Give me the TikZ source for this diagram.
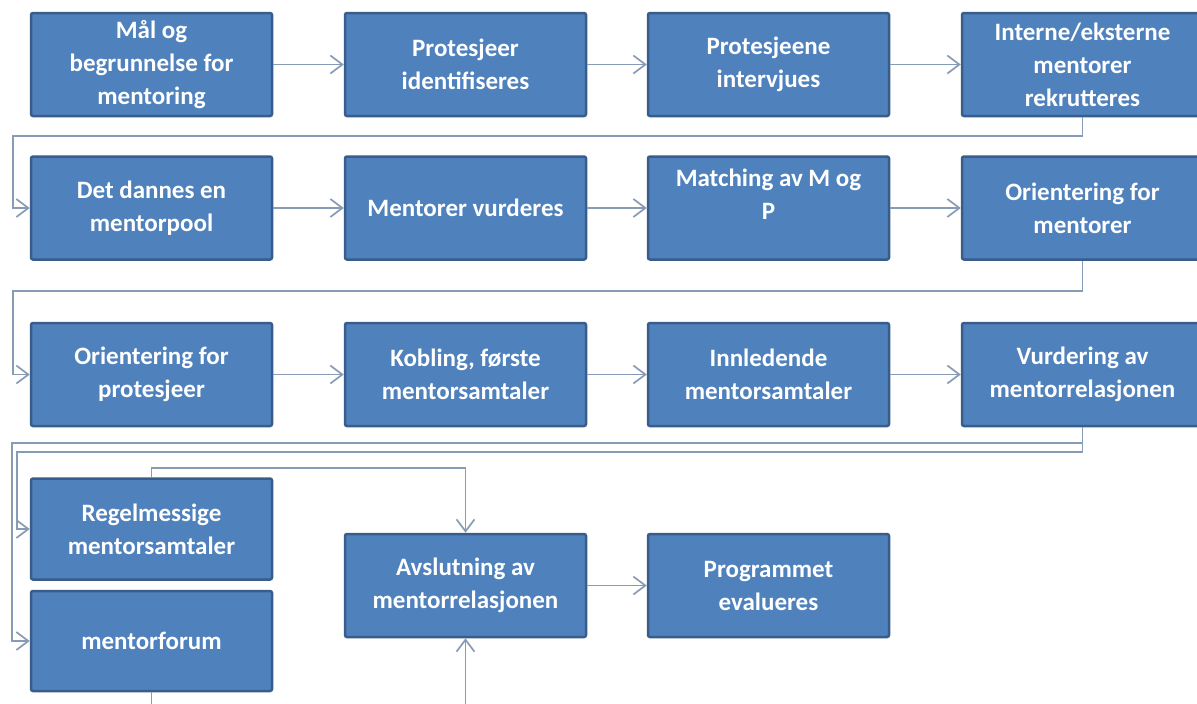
\documentclass[tikz,border=0pt]{standalone}
\usepackage{fontspec}
\setmainfont{Carlito}
\usetikzlibrary{arrows.meta}
\definecolor{boxfill}{RGB}{79,129,189}
\definecolor{boxborder}{RGB}{56,93,138}
\definecolor{conncol}{RGB}{136,155,180}
\begin{document}
\begin{tikzpicture}[x=1pt,y=-1pt,
  box/.style={draw=boxborder, line width=2.5pt, fill=boxfill, rounded corners=2pt,
    minimum width=241pt, minimum height=103pt, text=white, align=center, inner sep=0pt,
    font=\bfseries\fontsize{25}{33}\selectfont},
  conn/.style={draw=conncol, line width=1.7pt, -{Straight Barb[length=12pt,width=18pt]}}]
\useasboundingbox (0,0) rectangle (1197,704);
\fill[white] (0,0) rectangle (1197,704);
\clip (0,0) rectangle (1197,704);
% row 1
\node[box] (n1) at (151.5,64.5) {Mål og\\begrunnelse for\\mentoring};
\node[box] (n2) at (465.5,64.5) {Protesjeer\\identifiseres};
\node[box] (n3) at (768.5,64.5) {Protesjeene\\intervjues};
\node[box] (n4) at (1082.5,64.5) {Interne/eksterne\\mentorer\\rekrutteres};
% row 2
\node[box] (n5) at (151.5,208) {Det dannes en\\mentorpool};
\node[box] (n6) at (465.5,208) {Mentorer vurderes};
\node[box] (n7) at (768.5,208) {\raisebox{5pt}[0pt][0pt]{\begin{tabular}{@{}c@{}}Matching av M og\\P\end{tabular}}};
\node[box] (n8) at (1082.5,208) {Orientering for\\mentorer};
% row 3
\node[box] (n9) at (151.5,374.5) {Orientering for\\protesjeer};
\node[box] (n10) at (465.5,374.5) {Kobling, første\\mentorsamtaler};
\node[box] (n11) at (768.5,374.5) {Innledende\\mentorsamtaler};
\node[box] (n12) at (1082.5,374.5) {Vurdering av\\mentorrelasjonen};
% row 4
\node[box, minimum height=101pt] (n13) at (151.5,529) {Regelmessige\\mentorsamtaler};
\node[box, minimum height=100pt] (n14) at (151.5,641) {mentorforum};
\node[box] (n15) at (465.5,585.5) {Avslutning av\\mentorrelasjonen};
\node[box] (n16) at (768.5,585.5) {Programmet\\evalueres};
% coordinates
\coordinate (r1) at (13,136);
\coordinate (r2) at (13,291);
\coordinate (r3) at (12,443);
\coordinate (r4) at (17,452);
\coordinate (t1) at (151.5,468);
\coordinate (b1) at (151.5,712);
% connectors
\draw[conn] (n1.east) -- (n2.west);
\draw[conn] (n2.east) -- (n3.west);
\draw[conn] (n3.east) -- (n4.west);
\draw[conn] (n4.south) |- (r1) |- (n5.west);
\draw[conn] (n5.east) -- (n6.west);
\draw[conn] (n6.east) -- (n7.west);
\draw[conn] (n7.east) -- (n8.west);
\draw[conn] (n8.south) |- (r2) |- (n9.west);
\draw[conn] (n9.east) -- (n10.west);
\draw[conn] (n10.east) -- (n11.west);
\draw[conn] (n11.east) -- (n12.west);
\draw[conn] (n12.south) |- (r3) |- (n14.west);
\draw[conn] (n12.south) |- (r4) |- (n13.west);
\draw[conn] (n13.north) -- (t1) -| (n15.north);
\draw[conn] (n14.south) -- (b1) -| (n15.south);
\draw[conn] (n15.east) -- (n16.west);
\end{tikzpicture}
\end{document}
